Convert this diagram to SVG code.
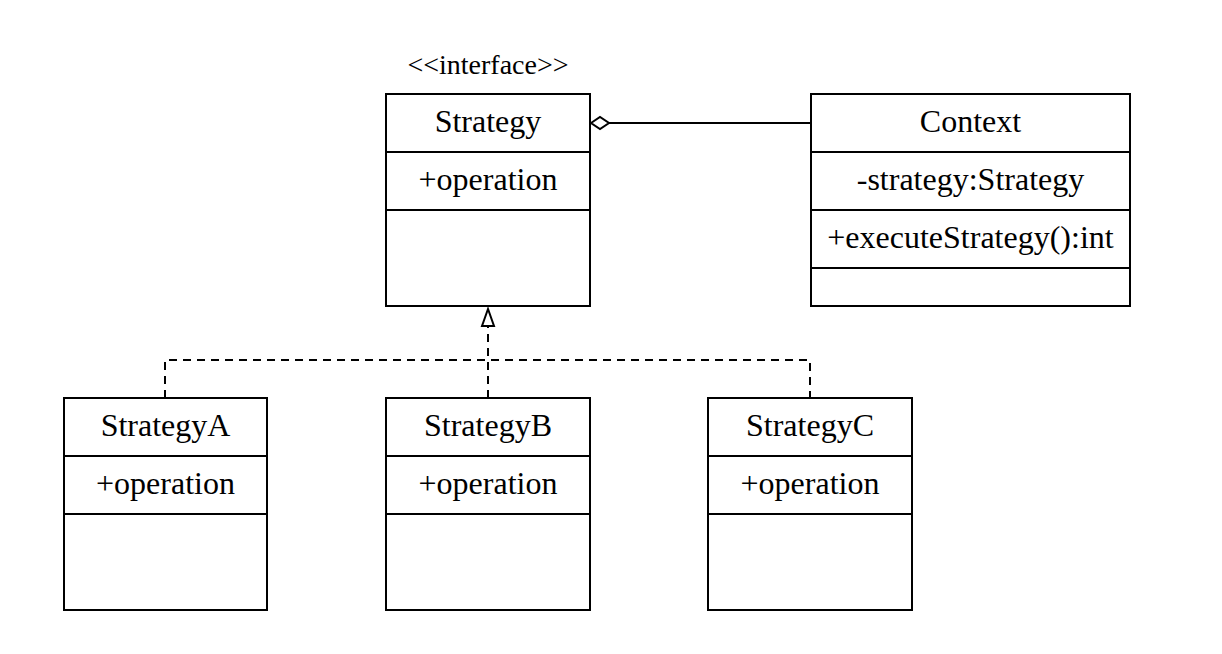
<svg xmlns="http://www.w3.org/2000/svg" width="1222" height="654" viewBox="0 0 1222 654">
<style>
.box{fill:#fff;stroke:#000;stroke-width:2}
.div{stroke:#000;stroke-width:2}
.t{font-family:"Liberation Serif","Times New Roman",serif;font-size:32px;fill:#000;text-anchor:middle}
.st{font-family:"Liberation Serif","Times New Roman",serif;font-size:28px;fill:#000;text-anchor:middle}
.dash{fill:none;stroke:#000;stroke-width:2;stroke-dasharray:8 6}
.solid{fill:none;stroke:#000;stroke-width:2}
</style>
<rect width="1222" height="654" fill="#fff"/>
<g id="connectors">
<polyline class="dash" points="165,398 165,360 810,360 810,398"/>
<line class="dash" x1="488" y1="398" x2="488" y2="326"/>
<polygon points="488,309 482,326 494,326" fill="#fff" stroke="#000" stroke-width="2"/>
<line class="solid" x1="609" y1="123" x2="811" y2="123"/>
<polygon points="591,123 600,117 609,123 600,129" fill="#fff" stroke="#000" stroke-width="2"/>
</g>
<g id="strategy">
<text class="st" x="488" y="74">&lt;&lt;interface&gt;&gt;</text>
<rect class="box" x="386" y="94" width="204" height="212"/>
<line class="div" x1="386" y1="152" x2="590" y2="152"/>
<line class="div" x1="386" y1="210" x2="590" y2="210"/>
<text class="t" x="488" y="132">Strategy</text>
<text class="t" x="488" y="190">+operation</text>
</g>
<g id="context">
<rect class="box" x="811" y="94" width="319" height="212"/>
<line class="div" x1="811" y1="152" x2="1130" y2="152"/>
<line class="div" x1="811" y1="210" x2="1130" y2="210"/>
<line class="div" x1="811" y1="268" x2="1130" y2="268"/>
<text class="t" x="970.5" y="132">Context</text>
<text class="t" x="970.5" y="190">-strategy:Strategy</text>
<text class="t" x="970.5" y="248">+executeStrategy():int</text>
</g>
<g id="strategyA">
<rect class="box" x="64" y="398" width="203" height="212"/>
<line class="div" x1="64" y1="456" x2="267" y2="456"/>
<line class="div" x1="64" y1="514" x2="267" y2="514"/>
<text class="t" x="165.5" y="436">StrategyA</text>
<text class="t" x="165.5" y="494">+operation</text>
</g>
<g id="strategyB">
<rect class="box" x="386" y="398" width="204" height="212"/>
<line class="div" x1="386" y1="456" x2="590" y2="456"/>
<line class="div" x1="386" y1="514" x2="590" y2="514"/>
<text class="t" x="488" y="436">StrategyB</text>
<text class="t" x="488" y="494">+operation</text>
</g>
<g id="strategyC">
<rect class="box" x="708" y="398" width="204" height="212"/>
<line class="div" x1="708" y1="456" x2="912" y2="456"/>
<line class="div" x1="708" y1="514" x2="912" y2="514"/>
<text class="t" x="810" y="436">StrategyC</text>
<text class="t" x="810" y="494">+operation</text>
</g>
</svg>
